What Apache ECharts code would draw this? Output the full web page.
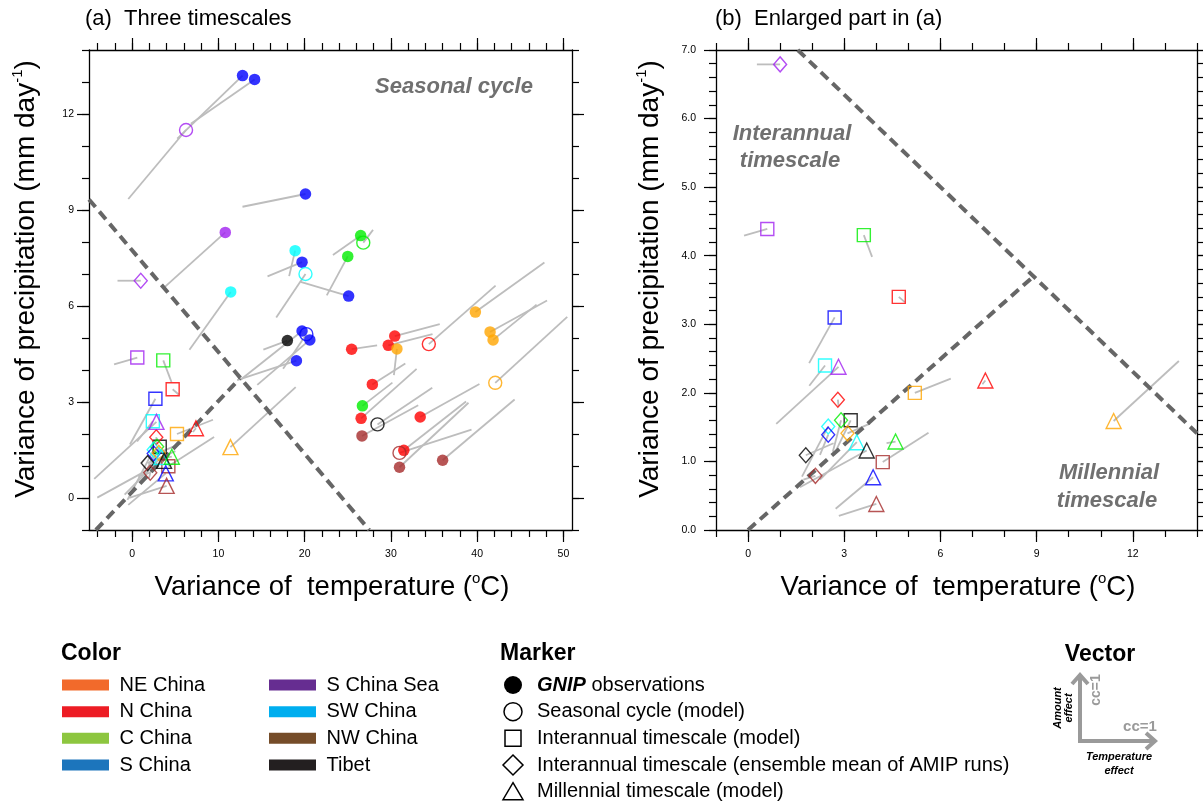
<!DOCTYPE html>
<html><head><meta charset="utf-8">
<script src="https://cdn.jsdelivr.net/npm/echarts@6/dist/echarts.min.js"></script>
<style>html,body{margin:0;padding:0;background:#fff}#c{width:1203px;height:805px}</style>
</head><body><div id="c"></div>
<script>
// ---------------- DATA ----------------
const regionNames = ['NE China','N China','C China','S China','S China Sea','SW China','NW China','Tibet'];
const markerTypes = ['obs','seas','inter','amip','mill'];
// panel (b) enlarges only the model timescales
const panelBTypes = ['inter','amip','mill'];

// one entry per plotted marker
const ptRegion = [
 'S China','S China','S China Sea','S China','S China Sea','SW China','S China','SW China','S China','C China',
 'C China','C China','SW China','NE China','S China','S China','S China','Tibet','S China','N China',
 'N China','N China','NE China','N China','NE China','NE China','NE China','N China','C China','N China',
 'Tibet','NW China','N China','NW China','N China','NW China','NW China',
 // interannual (model)
 'S China Sea','C China','N China','S China','SW China','NE China','Tibet','NW China',
 // interannual (AMIP ensemble)
 'S China Sea','N China','C China','SW China','S China','NE China','Tibet','NW China',
 // millennial
 'S China Sea','N China','NE China','SW China','Tibet','C China','S China','NW China'
];
const ptType = [
 'obs','obs','seas','obs','obs','obs','obs','seas','obs','obs',
 'seas','obs','obs','obs','obs','seas','obs','obs','obs','obs',
 'obs','obs','obs','seas','obs','obs','seas','obs','obs','obs',
 'seas','obs','obs','seas','obs','obs','obs',
 'inter','inter','inter','inter','inter','inter','inter','inter',
 'amip','amip','amip','amip','amip','amip','amip','amip',
 'mill','mill','mill','mill','mill','mill','mill','mill'
];
// variance of temperature (°C)
const ptTemp = [
 12.8,14.2,6.25,20.1,10.8,18.9,19.7,20.1,25.1,26.5,
 26.8,25.0,11.43,39.8,19.7,20.2,20.6,18.0,19.05,25.45,
 29.7,30.45,30.7,34.4,41.5,41.85,42.1,27.85,26.7,26.55,
 28.45,26.65,33.4,31.0,31.5,31.0,36.0,
 0.6,3.61,4.7,2.7,2.4,5.2,3.2,4.2,
 1.0,2.8,2.9,2.5,2.5,3.1,1.8,2.1,
 2.82,7.4,11.4,3.39,3.7,4.6,3.9,4.0
];
// variance of precipitation (mm/day)
const ptPrec = [
 13.2,13.08,11.5,9.5,8.3,7.73,7.37,7.0,6.31,8.2,
 7.98,7.55,6.44,5.81,5.22,5.12,4.94,4.92,4.29,4.65,
 4.77,5.06,4.66,4.81,5.19,4.94,3.6,3.55,2.88,2.49,
 2.3,1.94,2.53,1.41,1.49,0.96,1.18,
 4.39,4.3,3.4,3.1,2.4,2.0,1.6,0.99,
 6.79,1.9,1.6,1.51,1.39,1.41,1.09,0.79,
 2.38,2.18,1.59,1.28,1.16,1.29,0.77,0.38
];
// vector components: temperature effect cc and amount effect cc
const ccTemp = [
 0.87,0.85,0.77,0.84,0.82,0.08,0.46,0.39,0.64,0.37,
 -0.13,0.28,0.55,-0.92,0.82,0.31,0.70,0.32,0.79,-0.34,
 -0.59,-0.60,0.04,-0.89,-0.76,-0.58,-0.96,-0.44,-0.40,-0.74,
 -0.73,-0.75,-0.79,-0.96,-0.83,-0.92,-0.96,
 0.31,-0.11,-0.08,0.34,0.21,-0.48,0.21,-0.61,
 0.31,-0.01,0.11,0.35,0.11,-0.30,-0.37,0.16,
 0.83,0.04,-0.87,0.49,0.89,0.12,0.50,0.50
];
const ccPrec = [
 0.84,0.59,0.92,0.17,0.74,0.34,0.19,0.58,-0.19,0.26,
 -0.17,0.52,0.77,-0.66,0.65,0.46,0.60,0.12,0.26,-0.05,
 -0.15,-0.16,0.35,-0.78,-0.42,-0.47,-0.88,-0.28,-0.31,-0.66,
 -0.49,-0.41,-0.44,-0.31,-0.65,-0.86,-0.81,
 0.09,0.29,0.07,0.61,0.27,-0.19,0.43,-0.39,
 0,0.09,0.42,0.67,0.27,-0.13,-0.16,0.05,
 0.76,0.05,-0.80,0.50,0.49,0.02,0.42,0.16
];

// dividing lines (dashed)
const divideA = [[-5,9.33],[27.5,-1]];
const convergeA = [[-4.2,-1],[12.5,3.74]];
const divideB = [[1.55,7],[14,1.41]];
const convergeB = [[0,0],[8.88,3.69]];

// ticks
const xMajorA = [0,10,20,30,40,50];
const xMinorA = [-4,-2,0,2,4,6,8,10,12,14,16,18,20,22,24,26,28,30,32,34,36,38,40,42,44,46,48,50];
const yMajorA = [0,3,6,9,12];
const yMinorA = [-1,0,1,2,3,4,5,6,7,8,9,10,11,12,13,14];
const xMajorB = [0,3,6,9,12];
const xMinorB = [-1,0,1,2,3,4,5,6,7,8,9,10,11,12,13,14];
const yMajorB = [0,1,2,3,4,5,6,7];
const yMinorB = [0,0.2,0.4,0.6,0.8,1,1.2,1.4,1.6,1.8,2,2.2,2.4,2.6,2.8,3,3.2,3.4,3.6,3.8,4,4.2,4.4,4.6,4.8,5,5.2,5.4,5.6,5.8,6,6.2,6.4,6.6,6.8,7];

// ---------------- STYLE ----------------
const FONT = '"Liberation Sans", Arial, Helvetica, sans-serif';
const plotColor = {'NE China':'#FFA500','N China':'#FF0000','C China':'#00EE00','S China':'#0000FF',
  'S China Sea':'#A020F0','SW China':'#00FFFF','NW China':'#A52A2A','Tibet':'#000000'};
const legendColor = {'NE China':'#F26A2B','N China':'#ED1C24','C China':'#8DC63F','S China':'#1C75BC',
  'S China Sea':'#662D91','SW China':'#00AEEF','NW China':'#754C29','Tibet':'#231F20'};
const symbolOf = {obs:'circle', seas:'circle', inter:'rect', amip:'diamond', mill:'triangle'};
const sizeOf = {obs:11.5, seas:13, inter:13, amip:[13,15], mill:15};
const VEC_PX = 75; // pixels per cc = 1

function axisSet(gridIndex, dim, min, max, major, minor, fmt, margin) {
  const pos = dim === 'x' ? ['bottom','top'] : ['left','right'];
  const line = {show:true, onZero:false, lineStyle:{color:'#000', width:1.3}};
  const noLine = {show:false, onZero:false};
  const tk = (vals, len) => ({show:true, inside:false, length:len, customValues:vals, lineStyle:{color:'#000', width:1.2}});
  const base = {gridIndex, type:'value', min, max, splitLine:{show:false}, axisPointer:{show:false}};
  return [
    Object.assign({}, base, {position:pos[0], axisLine:line, axisTick:tk(major,12),
      axisLabel:{show:true, customValues:major, margin, formatter:fmt, fontSize:10.5, color:'#000', fontFamily:FONT}}),
    Object.assign({}, base, {position:pos[0], axisLine:noLine, axisTick:tk(minor,7), axisLabel:{show:false}}),
    Object.assign({}, base, {position:pos[1], axisLine:line, axisTick:tk(major,12), axisLabel:{show:false}}),
    Object.assign({}, base, {position:pos[1], axisLine:noLine, axisTick:tk(minor,7), axisLabel:{show:false}})
  ];
}

const xAxes = [].concat(
  axisSet(0,'x',-5,51,xMajorA,xMinorA,v=>String(v),19),
  axisSet(1,'x',-1,14,xMajorB,xMinorB,v=>String(v),19));
const yAxes = [].concat(
  axisSet(0,'y',-1,14,yMajorA,yMinorA,v=>String(v),15),
  axisSet(1,'y',0,7,yMajorB,yMinorB,v=>v.toFixed(1),20));

function seriesFor(g) {
  const xi = 4*g, yi = 4*g;
  const types = g === 0 ? markerTypes : panelBTypes;
  const idx = ptType.map((t,i)=>i).filter(i => types.indexOf(ptType[i]) >= 0);
  const out = [];
  out.push({
    type:'custom', xAxisIndex:xi, yAxisIndex:yi, clip:true, silent:true, z:2,
    data: idx.map(i=>[ptTemp[i], ptPrec[i], ccTemp[i], ccPrec[i]]),
    encode:{x:0, y:1},
    renderItem:(params, api) => {
      const p = api.coord([api.value(0), api.value(1)]);
      return {type:'line', shape:{x1:p[0], y1:p[1], x2:p[0]-api.value(2)*VEC_PX, y2:p[1]+api.value(3)*VEC_PX},
        style:{stroke:'#BDBDBD', lineWidth:1.8}};
    }
  });
  const dashes = g === 0 ? [divideA, convergeA] : [divideB, convergeB];
  dashes.forEach(d => out.push({type:'line', xAxisIndex:xi, yAxisIndex:yi, data:d, symbol:'none', silent:true, z:3,
    lineStyle:{color:'#666', width:4, type:[10,6]}}));
  types.forEach(mt => {
    const data = [];
    idx.forEach(i => {
      if (ptType[i] !== mt) return;
      const c = plotColor[ptRegion[i]];
      data.push({value:[ptTemp[i], ptPrec[i]], itemStyle: mt === 'obs'
        ? {color:c, borderWidth:0}
        : {color:'rgba(255,255,255,0)', borderColor:c, borderWidth:1.4}});
    });
    out.push({type:'scatter', xAxisIndex:xi, yAxisIndex:yi, symbol:symbolOf[mt], symbolSize:sizeOf[mt],
      data, clip:true, silent:true, z:4, emphasis:{disabled:true}});
  });
  return out;
}

// ---------------- GRAPHICS (titles, legend) ----------------
const txt = (x, y, text, o) => ({type:'text', x, y, silent:true, style:Object.assign({text, fontFamily:FONT, fill:'#000',
  textVerticalAlign:'middle', verticalAlign:'middle'}, o||{})});

const graphics = [];
graphics.push(txt(85,19,'(a)  Three timescales',{fontSize:22}));
graphics.push(txt(715,19,'(b)  Enlarged part in (a)',{fontSize:22}));
const supRich = {sup:{fontSize:15, lineHeight:14, verticalAlign:'top', fontFamily:FONT, fill:'#000'}};
graphics.push(txt(332,587,'Variance of  temperature ({sup|o}C)',{fontSize:27.5, lineHeight:32, align:'center', rich:supRich}));
graphics.push(txt(958,587,'Variance of  temperature ({sup|o}C)',{fontSize:27.5, lineHeight:32, align:'center', rich:supRich}));
graphics.push(Object.assign(txt(26,279,'Variance of precipitation (mm day{sup|-1})',{fontSize:28, lineHeight:32, align:'center', rich:supRich}),{rotation:Math.PI/2}));
graphics.push(Object.assign(txt(650,279,'Variance of precipitation (mm day{sup|-1})',{fontSize:28, lineHeight:32, align:'center', rich:supRich}),{rotation:Math.PI/2}));
const anno = {fontSize:22, fontWeight:'bold', fontStyle:'italic', fill:'#707070', align:'center'};
graphics.push(txt(454,87,'Seasonal cycle',anno));
graphics.push(txt(792,134,'Interannual',anno));
graphics.push(txt(790,161,'timescale',anno));
graphics.push(txt(1109,473,'Millennial',anno));
graphics.push(txt(1107,501,'timescale',anno));

// Color legend
const rowsY = [685,711.7,738.3,765,791.7];
graphics.push(txt(61,654,'Color',{fontSize:23, fontWeight:'bold'}));
regionNames.forEach((r,i) => {
  const col = i < 4 ? 0 : 1, row = i % 4;
  const sx = col ? 269 : 62, tx = col ? 326.5 : 119.6;
  graphics.push({type:'rect', silent:true, shape:{x:sx, y:rowsY[row]-5.5, width:47, height:11}, style:{fill:legendColor[r]}});
  graphics.push(txt(tx, rowsY[row], r, {fontSize:20}));
});

// Marker legend
const markerLabels = ['{b|GNIP} observations','Seasonal cycle (model)','Interannual timescale (model)',
  'Interannual timescale (ensemble mean of AMIP runs)','Millennial timescale (model)'];
graphics.push(txt(500,654,'Marker',{fontSize:23, fontWeight:'bold'}));
const mx = 513;
graphics.push({type:'circle', silent:true, shape:{cx:mx, cy:rowsY[0], r:9}, style:{fill:'#000'}});
graphics.push({type:'circle', silent:true, shape:{cx:mx, cy:rowsY[1], r:9}, style:{fill:'none', stroke:'#000', lineWidth:1.5}});
graphics.push({type:'rect', silent:true, shape:{x:mx-8, y:rowsY[2]-8, width:16, height:16}, style:{fill:'none', stroke:'#000', lineWidth:1.5}});
graphics.push({type:'polygon', silent:true, shape:{points:[[mx,rowsY[3]-10],[mx+10,rowsY[3]],[mx,rowsY[3]+10],[mx-10,rowsY[3]]]}, style:{fill:'none', stroke:'#000', lineWidth:1.5}});
graphics.push({type:'polygon', silent:true, shape:{points:[[mx,rowsY[4]-9],[mx+10,rowsY[4]+8],[mx-10,rowsY[4]+8]]}, style:{fill:'none', stroke:'#000', lineWidth:1.5}});
markerLabels.forEach((l,i) => graphics.push(txt(537, rowsY[i], l, {fontSize:20,
  rich:{b:{fontSize:20, fontWeight:'bold', fontStyle:'italic', fontFamily:FONT, fill:'#000'}}})));

// Vector legend
const vg = '#9A9A9A';
graphics.push(txt(1100,655,'Vector',{fontSize:23, fontWeight:'bold', align:'center'}));
graphics.push({type:'polyline', silent:true, shape:{points:[[1080,676],[1080,741],[1154,741]]}, style:{stroke:vg, lineWidth:4, fill:'none'}});
graphics.push({type:'polyline', silent:true, shape:{points:[[1072,684],[1080,675],[1088,684]]}, style:{stroke:vg, lineWidth:4, fill:'none'}});
graphics.push({type:'polyline', silent:true, shape:{points:[[1146,733],[1155,741],[1146,749]]}, style:{stroke:vg, lineWidth:4, fill:'none'}});
graphics.push(Object.assign(txt(1096,690,'cc=1',{fontSize:14, fontWeight:'bold', fill:vg, align:'center'}),{rotation:Math.PI/2}));
graphics.push(txt(1140,727,'cc=1',{fontSize:15, fontWeight:'bold', fill:vg, align:'center'}));
const sm = {fontSize:11, fontWeight:'bold', fontStyle:'italic', align:'center'};
graphics.push(Object.assign(txt(1058,708,'Amount',sm),{rotation:Math.PI/2}));
graphics.push(Object.assign(txt(1069,708,'effect',sm),{rotation:Math.PI/2}));
graphics.push(txt(1119,757,'Temperature',sm));
graphics.push(txt(1119,771,'effect',sm));

const chart = echarts.init(document.getElementById('c'));
chart.setOption({
  animation:false,
  backgroundColor:'#fff',
  grid:[
    {left:89, top:50, width:483, height:480, outerBoundsMode:'none', containLabel:false},
    {left:716, top:50, width:481, height:480, outerBoundsMode:'none', containLabel:false}
  ],
  xAxis:xAxes,
  yAxis:yAxes,
  series:[].concat(seriesFor(0), seriesFor(1)),
  graphic:graphics
});
</script>
</body></html>
